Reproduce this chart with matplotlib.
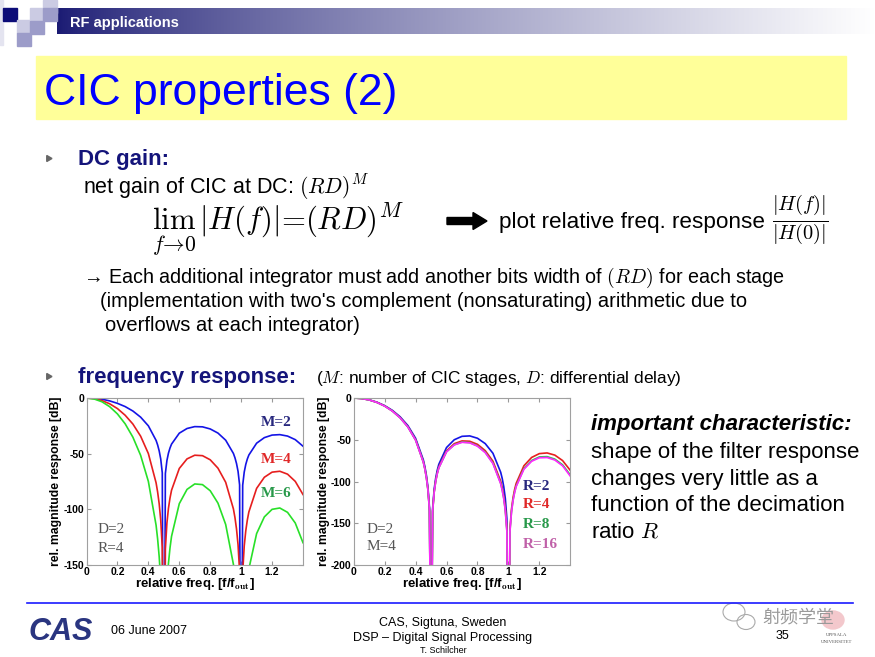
import matplotlib
matplotlib.use("Agg")
import matplotlib.pyplot as plt
from matplotlib.patches import Rectangle, FancyArrow, Ellipse
import numpy as np

plt.rcParams['mathtext.fontset'] = 'cm'
plt.rcParams['axes.unicode_minus'] = False
SANS = ['Liberation Sans', 'DejaVu Sans']
SERIF = ['Liberation Serif', 'DejaVu Serif']

# relative frequency f/f_out (shared x grid)
freq = [0, 0.05, 0.1, 0.15, 0.2, 0.25, 0.3, 0.35, 0.4, 0.45,
        0.46, 0.47, 0.48, 0.49, 0.5, 0.51, 0.52, 0.53, 0.54, 0.55,
        0.6, 0.65, 0.7, 0.75, 0.8, 0.85, 0.9, 0.95,
        0.96, 0.97, 0.98, 0.99, 1.0, 1.01, 1.02, 1.03, 1.04, 1.05,
        1.1, 1.15, 1.2, 1.25, 1.3, 1.35, 1.4]

# left plot: D=2, R=4, varying M  (dB, -400 = null)
m2 = [0, -0.3, -1.1, -2.6, -4.8, -7.7, -11.7, -17.2, -25.0, -38.1,
      -42.2, -47.5, -54.8, -67.2, -400, -67.8, -56.2, -49.5, -44.9, -41.4,
      -31.6, -27.4, -25.7, -25.9, -27.8, -31.5, -37.9, -49.8,
      -53.7, -58.8, -65.9, -78.0, -400, -78.3, -66.5, -59.6, -54.8, -51.2,
      -40.6, -35.6, -33.3, -32.9, -34.2, -37.4, -43.3]
m4 = [0, -0.6, -2.3, -5.2, -9.5, -15.5, -23.4, -34.3, -49.9, -76.2,
      -84.5, -95.0, -109.7, -134.4, -400, -135.7, -112.3, -99.0, -89.8, -82.8,
      -63.3, -54.7, -51.4, -51.8, -55.5, -63.0, -75.7, -99.6,
      -107.4, -117.6, -131.8, -156.1, -400, -156.6, -132.9, -119.2, -109.6, -102.3,
      -81.2, -71.2, -66.6, -65.8, -68.4, -74.9, -86.7]
m6 = [0, -0.9, -3.4, -7.8, -14.3, -23.2, -35.2, -51.5, -74.9, -114.3,
      -126.7, -142.5, -164.5, -201.5, -400, -203.5, -168.5, -148.4, -134.6, -124.2,
      -94.9, -82.1, -77.2, -77.8, -83.3, -94.4, -113.6, -149.4,
      -161.2, -176.3, -197.7, -234.1, -400, -235.0, -199.4, -178.8, -164.4, -153.5,
      -121.8, -106.8, -100.0, -98.8, -102.7, -112.3, -130.0]

# right plot: D=2, M=4, varying R (R=2 only up to f/f_out = 1)
r2 = [0, -0.5, -2.2, -5.0, -9.1, -14.8, -22.5, -33.0, -48.2, -74.0,
      -82.1, -92.6, -107.2, -131.7, -400, -132.8, -109.4, -95.9, -86.5, -79.5,
      -59.3, -50.0, -45.9, -45.4, -48.2, -54.6, -66.2, -88.9,
      -96.4, -106.3, -120.3, -144.3, -400]
r4 = m4
r8 = [0, -0.6, -2.3, -5.3, -9.6, -15.6, -23.7, -34.6, -50.3, -76.7,
      -85.0, -95.6, -110.3, -135.0, -400, -136.4, -113.1, -99.7, -90.5, -83.6,
      -64.3, -55.9, -52.8, -53.4, -57.3, -64.9, -77.9, -102.1,
      -110.0, -120.1, -134.5, -158.8, -400, -159.4, -135.8, -122.1, -112.6, -105.4,
      -84.5, -74.9, -70.6, -70.2, -73.2, -80.0, -92.2]
r16 = [0, -0.6, -2.3, -5.3, -9.7, -15.7, -23.8, -34.7, -50.5, -76.9,
       -85.2, -95.8, -110.5, -135.2, -400, -136.6, -113.2, -99.9, -90.7, -83.8,
       -64.5, -56.2, -53.1, -53.7, -57.7, -65.4, -78.5, -102.7,
       -110.6, -120.8, -135.1, -159.5, -400, -160.1, -136.5, -122.8, -113.3, -106.1,
       -85.4, -75.8, -71.6, -71.3, -74.3, -81.2, -93.6]

xticks = [0, 0.2, 0.4, 0.6, 0.8, 1.0, 1.2]
xticklabels = ['0', '0.2', '0.4', '0.6', '0.8', '1', '1.2']

W, H = 875, 657
fig = plt.figure(figsize=(W / 100, H / 100), dpi=100)
bg = fig.add_axes([0, 0, 1, 1])
bg.set_xlim(0, W)
bg.set_ylim(H, 0)
bg.axis('off')


def fax(l, t, r, b):
    return fig.add_axes([l / W, 1 - b / H, (r - l) / W, (b - t) / H])


# ---- header banner
t = np.linspace(0, 1, 500) ** 0.75
navy = np.array([0.10, 0.10, 0.45])
grad = navy[None, :] + (1 - navy[None, :]) * t[:, None]
bg.imshow(grad[None, :, :], extent=(57, W, 34, 8), aspect='auto', zorder=1)
light, mid = '#cbcbe3', '#9c9cc9'
bg.add_patch(Rectangle((0, 0), 3, 45, color='#e4e4f0', zorder=2))
for (x0, y0, c) in [(3, 8, '#0c0c78'), (17, 20, light), (30, 8, light), (43, 0, light),
                    (17, 33, mid), (30, 21, mid), (43, 8, mid)]:
    bg.add_patch(Rectangle((x0, y0), 13.5, 13, color=c, zorder=2))
bg.text(70, 27, 'RF applications', color='white', fontsize=10.5, weight='bold',
        family=SANS, zorder=3)

# ---- title
bg.add_patch(Rectangle((36, 56), 810, 63, color='#ffff99', zorder=1))
bg.text(44, 105, 'CIC properties (2)', color='#0000ff', fontsize=32, family=SANS, zorder=3)

# ---- DC gain block
navytxt = '#14147a'
bg.plot([48], [158], marker=(3, 0, 30), color='#666666', markersize=5)
bg.text(78, 165, 'DC gain:', color=navytxt, fontsize=16, weight='bold', family=SANS)
bg.text(83, 193, 'net gain of CIC at DC: $(RD)^M$', fontsize=15.5, family=SANS)
bg.text(152, 229, r'$\lim_{f\to 0}\,|H(f)| = (RD)^M$', fontsize=22.2)
bg.add_patch(FancyArrow(447, 221, 26, 0, width=7, head_width=17, head_length=14,
                        color='black', length_includes_head=False))
bg.text(499, 228, 'plot relative freq. response', fontsize=16.2, family=SANS)
bg.text(772, 221, r'$\frac{|H(f)|}{|H(0)|}$', fontsize=21, va='center')

bg.text(83, 283, '\u2192 Each additional integrator must add another bits width of $(RD)$ for each stage',
        fontsize=14.2, family=SANS)
bg.text(100, 307, "(implementation with two's complement (nonsaturating) arithmetic due to",
        fontsize=14.5, family=SANS)
bg.text(105, 331, 'overflows at each integrator)', fontsize=14.5, family=SANS)

# ---- frequency response block
bg.plot([48], [376], marker=(3, 0, 30), color='#666666', markersize=5)
bg.text(78, 383, 'frequency response:', color=navytxt, fontsize=16, weight='bold', family=SANS)
bg.text(316, 383, '($M$: number of CIC stages, $D$: differential delay)', fontsize=12.4, family=SANS)

# ---- right text
bg.text(591, 430, 'important characteristic:', fontsize=16, weight='bold', style='italic',
        family=SANS)
for yy, s in [(458, 'shape of the filter response'), (485, 'changes very little as a'),
              (511, 'function of the decimation'), (538, 'ratio $R$')]:
    bg.text(591, yy, s, fontsize=16, family=SANS)

# ---- plots
blue, red, green, magenta = '#1414e6', '#e61e1e', '#28e028', '#ff28ff'


def style(ax, ylim, yticks):
    ax.set_xlim(0, 1.4)
    ax.set_ylim(*ylim)
    ax.set_xticks(xticks)
    ax.set_xticklabels(xticklabels)
    ax.set_yticks(yticks)
    ax.tick_params(direction='in', top=True, right=True, length=3, color='#999999',
                   labelsize=7.5, pad=1.5)
    for lab in ax.get_xticklabels() + ax.get_yticklabels():
        lab.set_fontweight('bold')
        lab.set_family(SANS)
    for sp in ax.spines.values():
        sp.set_color('#a0a0a0')
    ax.set_ylabel('rel. magnitude response [dB]', fontsize=8.8, weight='bold', family=SANS,
                  labelpad=1)
    ax.set_xlabel('relative freq. [f/f$_{\\mathbf{out}}$]', fontsize=9.5, weight='bold',
                  family=SANS, labelpad=-1)


ax1 = fax(86.5, 398, 303, 565)
ax1.plot(freq, m2, color=blue, lw=1.2)
ax1.plot(freq, m4, color=red, lw=1.2)
ax1.plot(freq, m6, color=green, lw=1.2)
style(ax1, (-150, 0), [0, -50, -100, -150])
ax1.text(1.13, -22, 'M=2', color='#28287e', fontsize=11, weight='bold', family=SERIF, va='center')
ax1.text(1.13, -55.5, 'M=4', color='#e02828', fontsize=11, weight='bold', family=SERIF, va='center')
ax1.text(1.13, -86, 'M=6', color='#28994a', fontsize=11, weight='bold', family=SERIF, va='center')
ax1.text(0.07, -118, 'D=2', color='#555555', fontsize=11, family=SERIF, va='center')
ax1.text(0.07, -135.5, 'R=4', color='#555555', fontsize=11, family=SERIF, va='center')

ax2 = fax(353.7, 398, 570.3, 565)
ax2.plot(freq[:len(r2)], r2, color=blue, lw=1.2)
ax2.plot(freq, r4, color=red, lw=1.2)
ax2.plot(freq, r8, color='#30c050', lw=1.2)
ax2.plot(freq, r16, color=magenta, lw=1.2)
style(ax2, (-200, 0), [0, -50, -100, -150, -200])
ax2.text(1.09, -106, 'R=2', color='#28287e', fontsize=11, weight='bold', family=SERIF, va='center')
ax2.text(1.09, -128, 'R=4', color='#e02828', fontsize=11, weight='bold', family=SERIF, va='center')
ax2.text(1.09, -151, 'R=8', color='#28994a', fontsize=11, weight='bold', family=SERIF, va='center')
ax2.text(1.09, -175, 'R=16', color='#c060a8', fontsize=11, weight='bold', family=SERIF, va='center')
ax2.text(0.08, -158, 'D=2', color='#555555', fontsize=11, family=SERIF, va='center')
ax2.text(0.08, -178, 'M=4', color='#555555', fontsize=11, family=SERIF, va='center')

# ---- footer
bg.plot([27, 853], [603, 603], color='#1a1aff', lw=1.2)
bg.text(29, 640, 'CAS', color='#2a3580', fontsize=22, weight='bold', style='italic', family=SANS)
bg.text(111, 634, '06 June 2007', fontsize=9, family=SANS)
bg.text(443, 626, 'CAS, Sigtuna, Sweden', fontsize=9, family=SANS, ha='center')
bg.text(443, 641, 'DSP \u2013 Digital Signal Processing', fontsize=9, family=SANS, ha='center')
bg.text(443, 653, 'T. Schilcher', fontsize=6.5, family=SANS, ha='center')
bg.add_patch(Ellipse((833, 620), 22, 18, color='#f3c8cc', zorder=1))
bg.add_patch(Ellipse((734, 612), 22, 18, fill=False, ec='#aaaaaa', lw=0.8))
bg.add_patch(Ellipse((746, 622), 18, 15, fill=False, ec='#aaaaaa', lw=0.8))
bg.text(762, 623, '射频学堂', fontsize=13, color='#9a9a9a',
        family=['Noto Sans CJK SC', 'DejaVu Sans'], zorder=2)
bg.text(776, 639, '35', fontsize=9, family=SANS, zorder=3)
bg.text(837, 636, 'UPPSALA', fontsize=3.5, family=SERIF, ha='center', color='#555555')
bg.text(837, 643, 'UNIVERSITET', fontsize=3.5, family=SERIF, ha='center', color='#555555')

fig.savefig('out.png', dpi=100)
